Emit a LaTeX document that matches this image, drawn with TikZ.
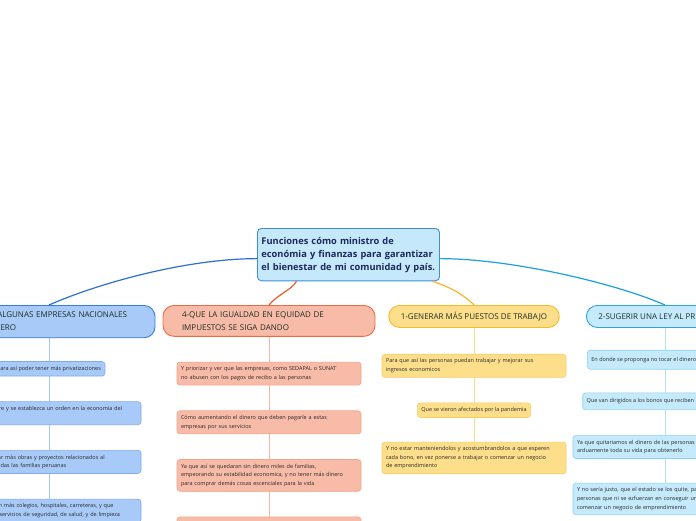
\documentclass[tikz,border=0pt]{standalone}
\usepackage{fontspec}
\setmainfont{Open Sans}
\usetikzlibrary{positioning,backgrounds}
\usepackage{xcolor}

\definecolor{rootfill}{HTML}{C5E8FA}
\definecolor{rootedge}{HTML}{3C8FD9}
\definecolor{roottext}{HTML}{1B2A5C}
\definecolor{branchtext}{HTML}{1E2E28}
\definecolor{leaftext}{HTML}{2B2B2B}
\definecolor{sellfill}{HTML}{A8CAF8}
\definecolor{selledge}{HTML}{3A7DE0}
\definecolor{sellleafedge}{HTML}{80AAF0}
\definecolor{sellstem}{HTML}{A6C8F6}
\definecolor{sellarc}{HTML}{2D6FD6}
\definecolor{taxfill}{HTML}{F8BBA7}
\definecolor{taxedge}{HTML}{EE6B45}
\definecolor{taxleafedge}{HTML}{F4A48C}
\definecolor{taxstem}{HTML}{F8B8A2}
\definecolor{taxarc}{HTML}{EE5A2F}
\definecolor{jobsfill}{HTML}{FDDF8B}
\definecolor{jobsedge}{HTML}{F6B92C}
\definecolor{jobsleafedge}{HTML}{F8CE62}
\definecolor{jobsstem}{HTML}{FCDC8A}
\definecolor{jobsarc}{HTML}{F7B52B}
\definecolor{lawfill}{HTML}{C4EAFB}
\definecolor{lawedge}{HTML}{33A3DC}
\definecolor{lawleafedge}{HTML}{8DD0F0}
\definecolor{lawstem}{HTML}{B3E2F7}
\definecolor{lawarc}{HTML}{1BA0E0}

\begin{document}
\begin{tikzpicture}[
  x=1pt, y=-1pt, node distance=25pt,
  root/.style={draw=rootedge, fill=rootfill, line width=0.9pt, rounded corners=4pt, align=left, text width=174pt, inner xsep=4pt, inner ysep=8.5pt, text=roottext, font=\bfseries\fontsize{9.3}{13}\selectfont},
  branch/.style={line width=0.9pt, rounded corners=11pt, align=left, inner xsep=12pt, inner ysep=6pt, minimum height=22pt, text=branchtext, font=\fontsize{8}{13}\selectfont},
  leaf/.style={line width=0.6pt, rounded corners=3pt, align=left, inner xsep=4pt, inner ysep=4.5pt, text=leaftext, font=\fontsize{5.5}{8.6}\selectfont},
  wide/.style={text width=176pt},
  sell/.style={draw=selledge, fill=sellfill}, sellleaf/.style={draw=sellleafedge, fill=sellfill},
  tax/.style={draw=taxedge, fill=taxfill}, taxleaf/.style={draw=taxleafedge, fill=taxfill},
  jobs/.style={draw=jobsedge, fill=jobsfill}, jobsleaf/.style={draw=jobsleafedge, fill=jobsfill},
  law/.style={draw=lawedge, fill=lawfill}, lawleaf/.style={draw=lawleafedge, fill=lawfill},
  stem/.style={line width=1pt},
  arc/.style={line width=1.2pt},
]
\useasboundingbox (0,0) rectangle (696,520);
\clip (0,0) rectangle (696,520);

% centre
\node[root, anchor=north west] (root) at (257,228) {Funciones cómo ministro de\\económia y finanzas para garantizar\\el bienestar de mi comunidad y país.};

% 3 - left
\node[branch, sell, inner xsep=14pt, text width=184pt, anchor=north] (p3) at (49,305) {3-VENDER ALGUNAS EMPRESAS NACIONALES\\AL EXTRANJERO};
\node[leaf, sellleaf, below=23pt of p3] (s1) {Para así poder tener más privatizaciones};
\node[leaf, sellleaf, wide, below=of s1] (s2) {Para que mejore y se establezca un orden en la economia del\\país};
\node[leaf, sellleaf, wide, below=of s2] (s3) {Para así generar más obras y proyectos relacionados al\\bienestar de todas las familias peruanas};
\node[leaf, sellleaf, wide, below=of s3] (s4) {Y se construyan más colegios, hospitales, carreteras, y que\\se les brinden servicios de seguridad, de salud, y de limpieza};

% 4 - taxes
\node[branch, tax, inner xsep=19pt, text width=174pt, anchor=north] (p4) at (269,305) {4-QUE LA IGUALDAD EN EQUIDAD DE\\IMPUESTOS SE SIGA DANDO};
\node[leaf, taxleaf, wide, below=of p4] (t1) {Y priorizar y ver que las empresas, como SEDAPAL o SUNAT\\no abusen con los pagos de recibo a las personas};
\node[leaf, taxleaf, wide, below=of t1] (t2) {Cómo aumentando el dinero que deben pagarle a estas\\empresas por sus servicios};
\node[leaf, taxleaf, wide, below=of t2] (t3) {Ya que así se quedaran sin dinero miles de familias,\\empeorando su estabilidad economica, y no tener más dinero\\para comprar demás cosas escenciales para la vida};
\node[leaf, taxleaf, wide, minimum height=24pt, below=of t3] (t4) {};

% 1 - jobs
\node[branch, jobs, anchor=north] (p1) at (474,305) {1-GENERAR MÁS PUESTOS DE TRABAJO};
\node[leaf, jobsleaf, wide, below=26pt of p1] (j1) {Para que así las personas puedan trabajar y mejorar sus\\ingresos economicos};
\node[leaf, jobsleaf, below=of j1] (j2) {Que se vieron afectados por la pandemia};
\node[leaf, jobsleaf, wide, below=24pt of j2] (j3) {Y no estar manteniendolos y acostumbrandolos a que esperen\\cada bono, en vez ponerse a trabajar o comenzar un negocio\\de emprendimiento};

% 2 - law
\node[branch, law, anchor=north] (p2) at (665,305) {2-SUGERIR UNA LEY AL PRESIDENTE};
\node[leaf, lawleaf, minimum height=19pt, below=22pt of p2] (l1) {En donde se proponga no tocar el dinero de los peruanos};
\node[leaf, lawleaf, minimum height=17pt, below=23pt of l1] (l2) {Que van dirigidos a los bonos que reciben las familias pobres};
\node[leaf, lawleaf, wide, below=of l2] (l3) {Ya que quitariamos el dinero de las personas que trabajaron\\arduamente toda su vida para obtenerlo};
\node[leaf, lawleaf, wide, below=24pt of l3] (l4) {Y no sería justo, que el estado se los quite, para dárselos a\\personas que ni se ezfuerzan en conseguir un trabajo o\\comenzar un negocio de emprendimiento};

\begin{scope}[on background layer]
  \fill[white] (0,0) rectangle (696,520);
  \draw[stem, sellstem] (p3) -- (s4);
  \draw[stem, taxstem] (p4) -- (t4);
  \draw[stem, jobsstem] (p1) -- (j3);
  \draw[stem, lawstem] (p2) -- (l4);
\end{scope}

% branches of the centre
\draw[arc, sellarc] (p3.north) .. controls +(50,-22) and +(-70,0) .. ([yshift=-4pt]root.west);
\draw[arc, lawarc] (p2.north) .. controls +(-50,-22) and +(70,0) .. ([yshift=-4pt]root.east);
\draw[arc, taxarc] (p4.north) .. controls +(8,-10) and +(-4,8) .. ([xshift=-52pt]root.south);
\draw[arc, jobsarc] (p1.north) .. controls +(-12,-12) and +(15,5) .. ([xshift=84pt]root.south);
\end{tikzpicture}
\end{document}
